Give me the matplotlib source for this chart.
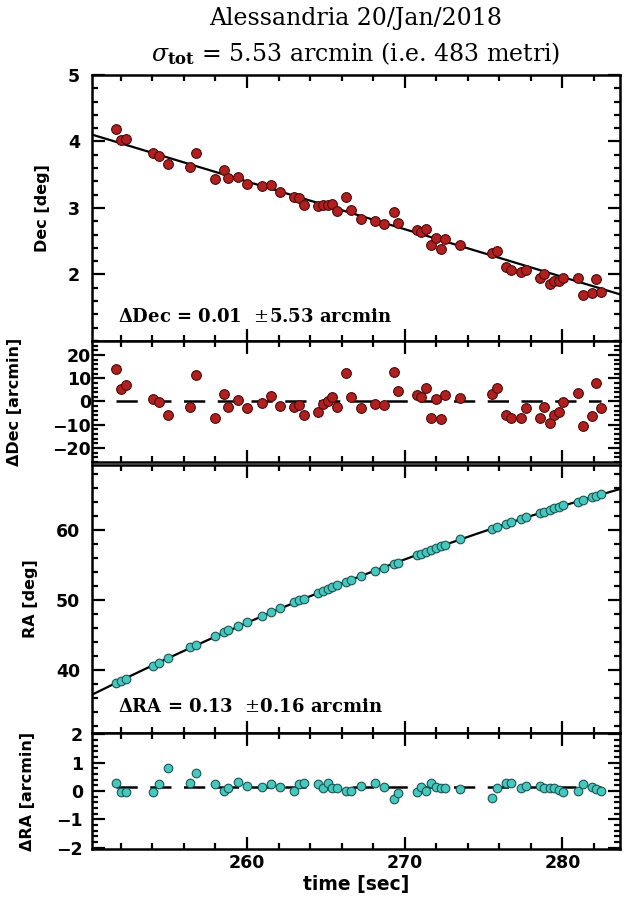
import numpy as np
import matplotlib
matplotlib.use("Agg")
import matplotlib.pyplot as plt
from matplotlib.ticker import MultipleLocator
from matplotlib.font_manager import FontProperties

# ---------------- data ----------------
time_sec = [251.68, 252.00, 252.30, 254.04, 254.41, 254.99, 256.41, 256.77, 257.96, 258.54,
            258.82, 259.42, 260.00, 260.92, 261.53, 262.11, 262.95, 263.27, 263.59, 264.52,
            264.80, 265.12, 265.40, 265.70, 266.30, 266.60, 267.20, 268.11, 268.71, 269.29,
            269.57, 270.75, 271.03, 271.35, 271.68, 271.98, 272.30, 272.58, 273.51, 275.53,
            275.85, 276.45, 276.77, 277.35, 277.68, 278.56, 278.86, 279.18, 279.46, 279.78,
            280.06, 280.97, 281.29, 281.87, 282.15, 282.47]

dec_deg = [4.185, 4.025, 4.040, 3.825, 3.775, 3.660, 3.615, 3.825, 3.435, 3.575,
           3.450, 3.465, 3.360, 3.335, 3.350, 3.235, 3.160, 3.150, 3.050, 3.025,
           3.050, 3.050, 3.065, 2.960, 3.160, 2.975, 2.840, 2.800, 2.760, 2.940,
           2.775, 2.665, 2.640, 2.685, 2.440, 2.550, 2.390, 2.540, 2.450, 2.325,
           2.360, 2.115, 2.065, 2.035, 2.075, 1.950, 2.000, 1.860, 1.900, 1.900,
           1.950, 1.940, 1.690, 1.725, 1.935, 1.735]

dec_res_arcmin = [14.1, 5.3, 7.1, 1.0, -0.4, -5.9, -2.3, 11.4, -6.9, 3.1,
                  -2.3, 0.6, -2.6, -0.7, 2.4, -1.9, -2.3, -1.4, -5.9, -4.4,
                  -1.1, 0.3, 2.0, -2.3, 12.1, 2.1, -3.0, -1.1, -1.4, 12.7,
                  4.3, 2.9, 2.0, 6.0, -7.1, 1.0, -7.6, 2.9, 1.7, 3.1,
                  6.0, -5.9, -7.3, -7.3, -2.6, -6.9, -2.3, -9.4, -5.7, -4.7,
                  -0.4, 3.6, -10.7, -6.4, 8.1, -3.0]

ra_deg = [38.09, 38.47, 38.71, 40.53, 40.96, 41.72, 43.25, 43.64, 44.83, 45.41,
          45.65, 46.27, 46.84, 47.66, 48.28, 48.85, 49.71, 49.95, 50.19, 51.05,
          51.29, 51.58, 51.87, 52.11, 52.60, 52.85, 53.44, 54.16, 54.64, 55.12,
          55.31, 56.41, 56.65, 56.89, 57.13, 57.37, 57.70, 57.85, 58.66, 60.10,
          60.38, 60.86, 61.10, 61.58, 61.80, 62.39, 62.63, 62.87, 63.11, 63.35,
          63.59, 64.07, 64.31, 64.78, 64.93, 65.12]

ra_res_arcmin = [0.30, -0.05, -0.05, -0.02, 0.25, 0.83, 0.30, 0.63, 0.24, 0.01,
                 0.10, 0.33, 0.19, 0.15, 0.24, 0.15, 0.01, 0.24, 0.27, 0.25,
                 0.10, 0.27, 0.10, 0.10, 0.00, 0.01, 0.18, 0.30, 0.13, -0.29,
                 -0.06, -0.05, 0.15, 0.00, 0.27, 0.15, 0.10, 0.10, 0.07, -0.23,
                 0.12, 0.27, 0.27, 0.10, 0.19, 0.18, 0.10, 0.12, 0.10, 0.04,
                 -0.05, 0.00, 0.24, 0.15, 0.07, 0.00]

dec_offset = 0.01
dec_sigma = 5.53
ra_offset = 0.13
ra_sigma = 0.16
sigma_tot = 5.53
metri = 483

title1 = "Alessandria 20/Jan/2018"
title2 = r"$\sigma_{\mathbf{tot}}$ = %.2f arcmin (i.e. %d metri)" % (sigma_tot, metri)

# ---------------- styling ----------------
W, H = 625, 905
DPI = 100
plt.rcParams['mathtext.fontset'] = 'dejavuserif'
fig = plt.figure(figsize=(W / DPI, H / DPI), dpi=DPI)

def rect(x0, y0, x1, y1):
    return [x0 / W, 1 - y1 / H, (x1 - x0) / W, (y1 - y0) / H]

def fpos(x, y):
    return x / W, 1 - y / H

L, R = 92, 620
ax1 = fig.add_axes(rect(L, 75, R, 341))
ax2 = fig.add_axes(rect(L, 341, R, 462))
ax3 = fig.add_axes(rect(L, 465, R, 733))
ax4 = fig.add_axes(rect(L, 733, R, 849))

xlim = (250.17, 283.65)
t = np.array(time_sec)
dec_col = '#b21f1f'
dec_edge = '#4a0c0c'
ra_col = '#46c8bf'
ra_edge = '#1c5553'

tickfp = FontProperties(family='DejaVu Sans', weight='bold', size=12.5)
labfont = dict(family='DejaVu Sans', weight='bold', size=11.5)

def style(ax, ymaj, ymin, pad_px):
    ax.set_xlim(*xlim)
    ax.xaxis.set_major_locator(MultipleLocator(10))
    ax.xaxis.set_minor_locator(MultipleLocator(2))
    ax.yaxis.set_major_locator(MultipleLocator(ymaj))
    ax.yaxis.set_minor_locator(MultipleLocator(ymin))
    ax.tick_params(which='both', direction='in', top=True, right=True, width=1.6)
    ax.tick_params(which='major', length=9)
    ax.tick_params(which='minor', length=4.5)
    ax.tick_params(axis='y', pad=pad_px * 0.72)
    for s in ax.spines.values():
        s.set_linewidth(1.8)

xfit = np.linspace(xlim[0], xlim[1], 200)
dash = (0, (8.5, 5.0))

# Panel 1: Dec
ax1.plot(t, dec_deg, 'o', ms=7, mfc=dec_col, mec=dec_edge, mew=0.8, zorder=3)
dec_model = np.array(dec_deg) - np.array(dec_res_arcmin) / 60.0
p1 = np.polyfit(t, dec_model, 1)
ax1.plot(xfit, np.polyval(p1, xfit), color='black', lw=1.6, zorder=2)
ax1.set_ylim(1.0, 5.0)
style(ax1, 1, 0.2, 12)
ax1.set_yticks([2, 3, 4, 5])
ax1.set_ylabel('Dec [deg]', **labfont)
ax1.yaxis.set_label_coords((50 - L) / (R - L), 0.5)
ax1.text(*fpos(118, 322), r"$\mathbf{\Delta}$Dec = %.2f  $\pm$%.2f arcmin" % (dec_offset, dec_sigma),
         transform=fig.transFigure, fontsize=13, family='DejaVu Serif', weight='bold',
         va='baseline')

# Panel 2: Dec residual
ax2.plot(t, dec_res_arcmin, 'o', ms=7, mfc=dec_col, mec=dec_edge, mew=0.8, zorder=3)
ax2.plot([t.min(), t.max()], [dec_offset, dec_offset], color='black', lw=1.8,
         linestyle=dash, zorder=2)
ax2.set_ylim(-26, 26)
style(ax2, 10, 2, 1)
ax2.set_yticks([-20, -10, 0, 10, 20])
ax2.set_yticklabels(['\u221220', '\u221210', '0', '10', '20'])
ax2.set_ylabel('\u0394Dec [arcmin]', **labfont)
ax2.yaxis.set_label_coords((22 - L) / (R - L), 0.5)

# Panel 3: RA
ax3.plot(t, ra_deg, 'o', ms=6.2, mfc=ra_col, mec=ra_edge, mew=0.8, zorder=3)
ra_model = np.array(ra_deg) - np.array(ra_res_arcmin) / 60.0
p3 = np.polyfit(t, ra_model, 2)
ax3.plot(xfit, np.polyval(p3, xfit), color='black', lw=1.6, zorder=2)
ax3.set_ylim(31.0, 69.3)
style(ax3, 10, 2, 12)
ax3.set_yticks([40, 50, 60])
ax3.set_ylabel('RA [deg]', **labfont)
ax3.yaxis.set_label_coords((38 - L) / (R - L), 0.5)
ax3.text(*fpos(118, 712), r"$\mathbf{\Delta}$RA = %.2f  $\pm$%.2f arcmin" % (ra_offset, ra_sigma),
         transform=fig.transFigure, fontsize=13, family='DejaVu Serif', weight='bold',
         va='baseline')

# Panel 4: RA residual
ax4.plot(t, ra_res_arcmin, 'o', ms=6.2, mfc=ra_col, mec=ra_edge, mew=0.8, zorder=3)
ax4.plot([t.min(), t.max()], [ra_offset, ra_offset], color='black', lw=1.8,
         linestyle=dash, zorder=2)
ax4.set_ylim(-2.05, 2.05)
style(ax4, 1, 0.2, 9)
ax4.set_yticks([-2, -1, 0, 1, 2])
ax4.set_yticklabels(['\u22122', '\u22121', '0', '1', '2'])
ax4.set_ylabel('\u0394RA [arcmin]', **labfont)
ax4.yaxis.set_label_coords((35 - L) / (R - L), 0.5)
ax4.set_xticks([260, 270, 280])
ax4.set_xlabel('time [sec]', family='DejaVu Sans', weight='bold', size=13.5, labelpad=2)

for ax in (ax1, ax2, ax3):
    ax.tick_params(labelbottom=False)

for ax in (ax1, ax2, ax3, ax4):
    for lab in ax.get_yticklabels() + ax.get_xticklabels():
        lab.set_fontproperties(tickfp)

fig.text(*fpos(356, 18), title1, ha='center', va='center', family='DejaVu Serif', size=17)
fig.text(*fpos(356, 54), title2, ha='center', va='center', family='DejaVu Serif', size=17)

fig.savefig('out.png', dpi=DPI)
